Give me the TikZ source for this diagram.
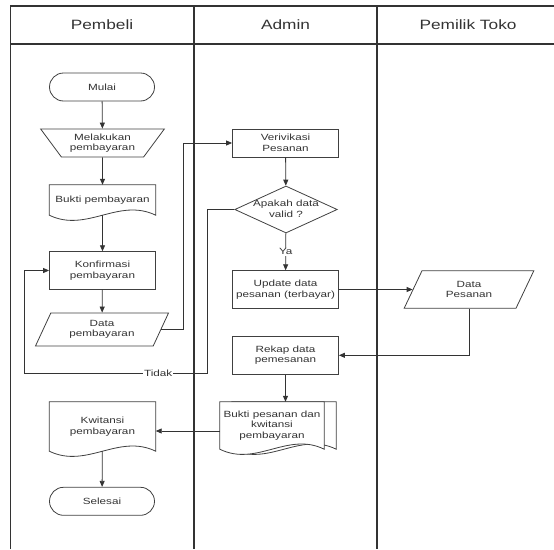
\documentclass[tikz,border=0pt]{standalone}
\usepackage{fontspec}
\usetikzlibrary{positioning,shapes.geometric,arrows.meta,calc,backgrounds}
\newfontfamily\isifont{Liberation Sans}[FakeStretch=1.3]
\newfontfamily\judulfont{Liberation Sans}[FakeStretch=1.28]
\definecolor{garis}{HTML}{404040}
\definecolor{tulisan}{HTML}{333333}
\tikzset{
  kolam/.style={line width=1.4pt, color=garis!80!black},
  judul/.style={text=tulisan, font=\judulfont\fontsize{13.5}{15}\selectfont},
  teks/.style={text=tulisan, font=\isifont\fontsize{9}{10.5}\selectfont, align=center},
  bentuk/.style={teks, draw=garis, line width=0.8pt, inner sep=1pt},
  terminator/.style={bentuk, rectangle, rounded corners=14pt, minimum width=105pt, minimum height=28pt},
  proses/.style={bentuk, rectangle, minimum width=106pt, minimum height=37.6pt},
  inputmanual/.style={bentuk, trapezium, trapezium left angle=51, trapezium right angle=51,
    shape border rotate=180, trapezium stretches=true, minimum width=124pt, minimum height=28pt},
  masukan/.style={bentuk, trapezium, trapezium left angle=64, trapezium right angle=116,
    trapezium stretches=true},
  keputusan/.style={bentuk, diamond, minimum width=102.5pt, minimum height=47pt, inner sep=0pt},
  dok/.style={teks, rectangle, minimum width=106pt, inner sep=1pt},
  panah/.style={draw=garis!80!black, line width=0.8pt, -{Triangle[length=6pt,width=5pt]}},
}
% dokumen dengan sisi bawah bergelombang
\newcommand{\dokumen}[2]{%
  \draw[draw=garis, line width=0.8pt, fill=white]
    ($(#1.north west)+(#2,0)$) -- ($(#1.north east)+(#2,0)$) -- ($(#1.south east)+(#2,0)$)
    .. controls ($(#1.south east)!0.35!(#1.south west)+(#2,-18)$)
    and ($(#1.south east)!0.65!(#1.south west)+(#2,18)$) .. ($(#1.south west)+(#2,0)$) -- cycle;}

\begin{document}
\begin{tikzpicture}[x=1pt, y=-1pt]
\useasboundingbox (0,0) rectangle (554,549);
% kolam
\draw[kolam] (10.6,549) -- (10.6,6) -- (554,6);
\draw[kolam] (10.6,44) -- (554,44);
\draw[kolam] (194,6) -- (194,549);
\draw[kolam] (377,6) -- (377,549);
\node[judul] (pembeli) at (102,25) {Pembeli};
\node[judul] (admin) at (285.5,25) {Admin};
\node[judul] (pemilik) at (468,25) {Pemilik Toko};

% pembeli
\node[terminator] (mulai) at (102,87) {Mulai};
\node[inputmanual] (bayar) at (102.5,143) {Melakukan\\pembayaran};
\node[dok, minimum height=30pt] (buktibayar) at (102.5,200) {Bukti pembayaran};
\node[proses] (konfirmasi) at (102.5,270.5) {Konfirmasi\\pembayaran};
\node[masukan, minimum width=134pt, minimum height=33pt] (databayar) at (102,329.5) {Data\\pembayaran};
\node[dok, minimum height=49pt] (kwitansi) at (102.5,426.5) {Kwitansi\\pembayaran};
\node[terminator] (selesai) at (102,501.3) {Selesai};

% admin
\node[proses, minimum height=28pt] (verifikasi) at (285.5,143) {Verivikasi\\Pesanan};
\node[keputusan] (valid) at (286,209.5) {};
\node[teks] (validteks) at (286,209) {Apakah data\\valid ?};
\node[proses] (update) at (285.5,289.5) {Update data\\pesanan (terbayar)};
\node[proses] (rekap) at (285.5,355.3) {Rekap data\\pemesanan};
\node[dok, minimum width=104pt, minimum height=47pt] (buktipesan) at (272,425.5) {Bukti pesanan dan\\kwitansi\\pembayaran};

% pemilik toko
\node[masukan, minimum width=130pt, minimum height=37.6pt] (datapesanan) at (469,289.5) {Data\\Pesanan};

\begin{scope}[on background layer]
\dokumen{buktibayar}{0}
\dokumen{kwitansi}{0}
\dokumen{buktipesan}{12}
\dokumen{buktipesan}{0}
\end{scope}

% alur
\coordinate (belokbayar) at (183.7,143);
\coordinate (tidakatas) at (207.8,373);
\coordinate (tidakkiri) at (24,373);
\draw[panah] (mulai) -- (bayar);
\draw[panah] (bayar) -- (buktibayar);
\draw[panah] (buktibayar) -- (konfirmasi);
\draw[panah] (konfirmasi) -- (databayar);
\draw[panah] (databayar.east) -| (belokbayar) -- (verifikasi.west);
\draw[panah] (verifikasi) -- (valid);
\draw[panah] (valid) -- node[teks, fill=white, inner sep=1pt] (ya) {Ya} (update);
\draw[panah] (valid.west) -| (tidakatas) -- node[pos=0.27, teks, fill=white, inner sep=1pt] (tidak) {Tidak} (tidakkiri) |- (konfirmasi.west);
\draw[panah] (update) -- (datapesanan);
\draw[panah] (datapesanan.center |- datapesanan.south) |- (rekap.east);
\draw[panah] (rekap.south) -- (rekap.south |- buktipesan.north);
\draw[panah] (buktipesan.west |- 0,431) -- (kwitansi.east |- 0,431);
\draw[panah] (kwitansi) -- (selesai);
\end{tikzpicture}
\end{document}
